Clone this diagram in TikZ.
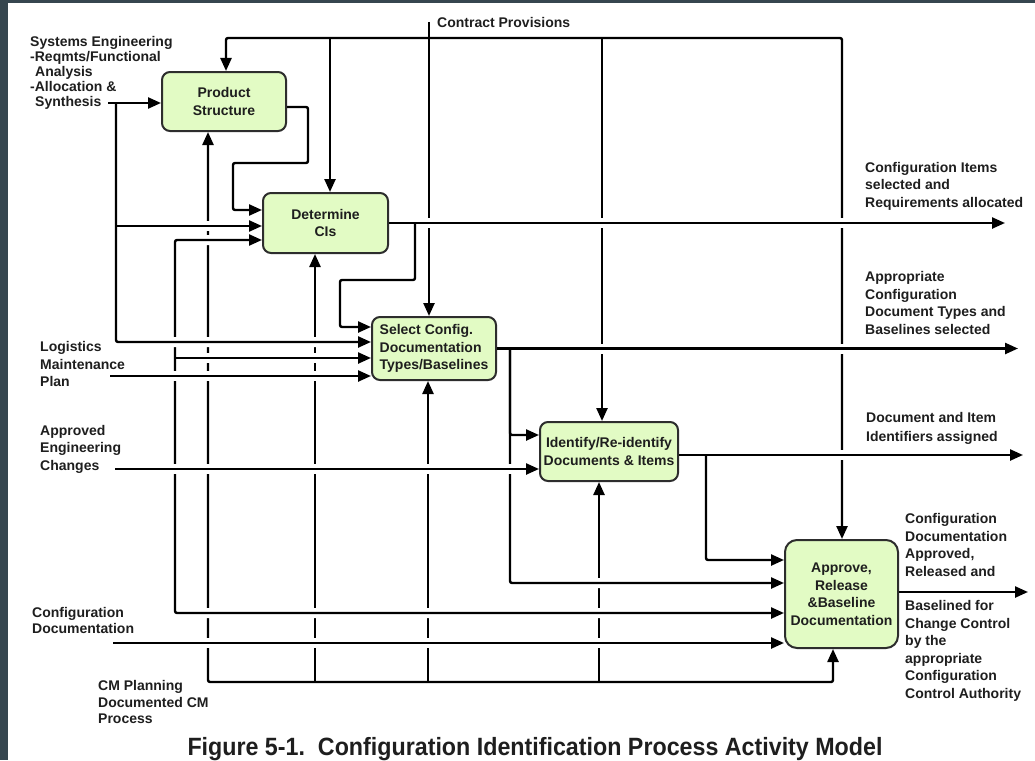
\documentclass[tikz,border=0pt]{standalone}
\usepackage{fontspec}
\setmainfont{Liberation Sans}
\newfontfamily\capfont[FakeStretch=0.93]{Liberation Sans}
\usepackage{tikz}
\usetikzlibrary{arrows.meta}

\definecolor{frame}{RGB}{54,70,79}
\definecolor{boxfill}{RGB}{226,251,196}
\definecolor{boxline}{RGB}{45,45,45}
\definecolor{ink}{RGB}{30,30,30}

\begin{document}
\begin{tikzpicture}[x=1pt, y=-1pt,
    >={Triangle[length=13pt, width=11pt]},
    every node/.style={inner sep=0pt, text=ink},
    lbl/.style={align=left, anchor=west, font=\fontsize{14}{17.5}\selectfont\bfseries},
    activity/.style={draw=boxline, line width=2pt, fill=boxfill, rounded corners=8pt,
                     align=center, font=\fontsize{14}{17.5}\selectfont\bfseries},
    wire/.style={line width=2.4pt, rounded corners=2pt},
    hop/.style={preaction={draw=white, line width=10pt, shorten <=5pt, shorten >=5pt, arrows=-}}]

    \fill[frame] (0,0) rectangle (1035,760);
    \fill[white] (8,3) rectangle (1035,760);
    \useasboundingbox (0,0) rectangle (1035,760);

    % activities
    \node[activity, minimum width=124pt, minimum height=59pt] (ps) at (224,101.5) {Product\\Structure};
    \node[activity, minimum width=125pt, minimum height=60pt] (dc) at (325.5,223) {Determine\\CIs};
    \node[activity, minimum width=124pt, minimum height=63pt, align=left] (sc) at (434,348.5) {Select Config.\\Documentation\\Types/Baselines};
    \node[activity, minimum width=138pt, minimum height=59pt] (id) at (609,451.5) {Identify/Re-identify\\Documents \& Items};
    \node[activity, minimum width=113pt, minimum height=108pt, rounded corners=12pt] (ap) at (841.5,594) {Approve,\\Release\\\&Baseline\\Documentation};

    % inputs and outputs
    \node[lbl, font=\fontsize{14}{15}\selectfont\bfseries] (sysEng) at (30,73) {Systems Engineering\\-Reqmts/Functional\\\hspace*{5pt}Analysis\\-Allocation \&\\\hspace*{5pt}Synthesis};
    \node[lbl, anchor=base west] (contract) at (437,28) {Contract Provisions};
    \node[lbl] (logistics) at (40,364) {Logistics\\Maintenance\\Plan};
    \node[lbl] (changes) at (40,449) {Approved\\Engineering\\Changes};
    \node[lbl, font=\fontsize{14}{16}\selectfont\bfseries] (configDoc) at (32,620) {Configuration\\Documentation};
    \node[lbl, font=\fontsize{14}{16.5}\selectfont\bfseries] (cmPlan) at (98,702) {CM Planning\\Documented CM\\Process};
    \node[lbl] (outCI) at (865,186) {Configuration Items\\selected and\\Requirements allocated};
    \node[lbl] (outTypes) at (865,303) {Appropriate\\Configuration\\Document Types and\\Baselines selected};
    \node[lbl, font=\fontsize{14}{19}\selectfont\bfseries] (outIdent) at (866,428) {Document and Item\\Identifiers assigned};
    \node[lbl] (outApproved) at (905,545) {Configuration\\Documentation\\Approved,\\Released and};
    \node[lbl] (outBaselined) at (905,651) {Baselined for\\Change Control\\by the\\appropriate\\Configuration\\Control Authority};
    \node[anchor=base, font=\capfont\bfseries\fontsize{25}{30}\selectfont] (caption) at (535,755) {Figure 5-1.\ \ Configuration Identification Process Activity Model};

    % free ends and bends
    \coordinate (synEnd) at (108,103);
    \coordinate (seA) at (116,103);
    \coordinate (seB) at (116,226);
    \coordinate (seC) at (116,342);
    \coordinate (cpEnd) at (429,22);
    \coordinate (topL) at (226,38);
    \coordinate (topDC) at (330,38);
    \coordinate (topID) at (602,38);
    \coordinate (topR) at (842,38);
    \coordinate (cmL) at (208,682);
    \coordinate (cmDC) at (315,682);
    \coordinate (cmSC) at (428,682);
    \coordinate (cmID) at (599,682);
    \coordinate (cmR) at (833,682);
    \coordinate (fbT) at (175,240);
    \coordinate (fbM) at (175,358);
    \coordinate (fbB) at (175,613);
    \coordinate (lmpEnd) at (110,376);
    \coordinate (aecEnd) at (115,469);
    \coordinate (cdEnd) at (113,643);
    \coordinate (dcSplit) at (415,223);
    \coordinate (dcBend) at (340,280);
    \coordinate (dcOut) at (1005,223);
    \coordinate (scSplit) at (510,348.5);
    \coordinate (scOut) at (1018,348.5);
    \coordinate (idSplit) at (706,455);
    \coordinate (idOut) at (1023,455);
    \coordinate (apOut) at (1028,592);

    % Now draw the lines (crossed ones first, the hop lines cut gaps in them):
    \draw[wire, <->] (ps.south -| cmL) -- (cmL) -- (cmR) -- (ap.south -| cmR);
    \draw[wire, ->] (cmDC) -- (dc.south -| cmDC);
    \draw[wire, ->] (cmSC) -- (sc.south -| cmSC);
    \draw[wire, ->] (cmID) -- (id.south -| cmID);

    \draw[wire, <->] (ps.north -| topL) -- (topL) -- (topR) -- (ap.north -| topR);
    \draw[wire, ->] (topDC) -- (dc.north -| topDC);
    \draw[wire, ->] (topID) -- (id.north -| topID);
    \draw[wire, ->] (cpEnd) -- (sc.north -| cpEnd);

    \draw[wire, hop, <->] (ap.west |- fbB) -- (fbB) -- (fbT) -- (dc.west |- fbT);
    \draw[wire, hop, ->] (seA) -- (seC) -- (sc.west |- seC);
    \draw[wire, hop, ->] (seB) -- (dc.west |- seB);
    \draw[wire, ->] (synEnd) -- (ps.west |- synEnd);
    \draw[wire, hop, ->] (fbM) -- (sc.west |- fbM);
    \draw[wire, hop, ->] (lmpEnd) -- (sc.west |- lmpEnd);
    \draw[wire, ->] ([yshift=-5.5pt]ps.east) -| (308,163) -| (233,210) -- ([yshift=13pt]dc.west);

    \draw[wire, hop, ->] (dc.east |- dcOut) -- (dcOut);
    \draw[wire, ->] (dcSplit) |- (dcBend) |- ([yshift=21.5pt]sc.west);

    \draw[wire, hop, ->] (sc.east) -- (scOut);
    \draw[wire, hop, ->] (scSplit) |- ([yshift=11pt]ap.west);
    \draw[wire, ->] (scSplit) |- ([yshift=16.5pt]id.west);
    \draw[wire, hop, ->] (aecEnd) -- (id.west |- aecEnd);

    \draw[wire, hop, ->] (id.east |- idOut) -- (idOut);
    \draw[wire, ->] (idSplit) |- ([yshift=34pt]ap.west);
    \draw[wire, hop, ->] (cdEnd) -- (ap.west |- cdEnd);
    \draw[wire, ->] (ap.east |- apOut) -- (apOut);
\end{tikzpicture}
\end{document}
